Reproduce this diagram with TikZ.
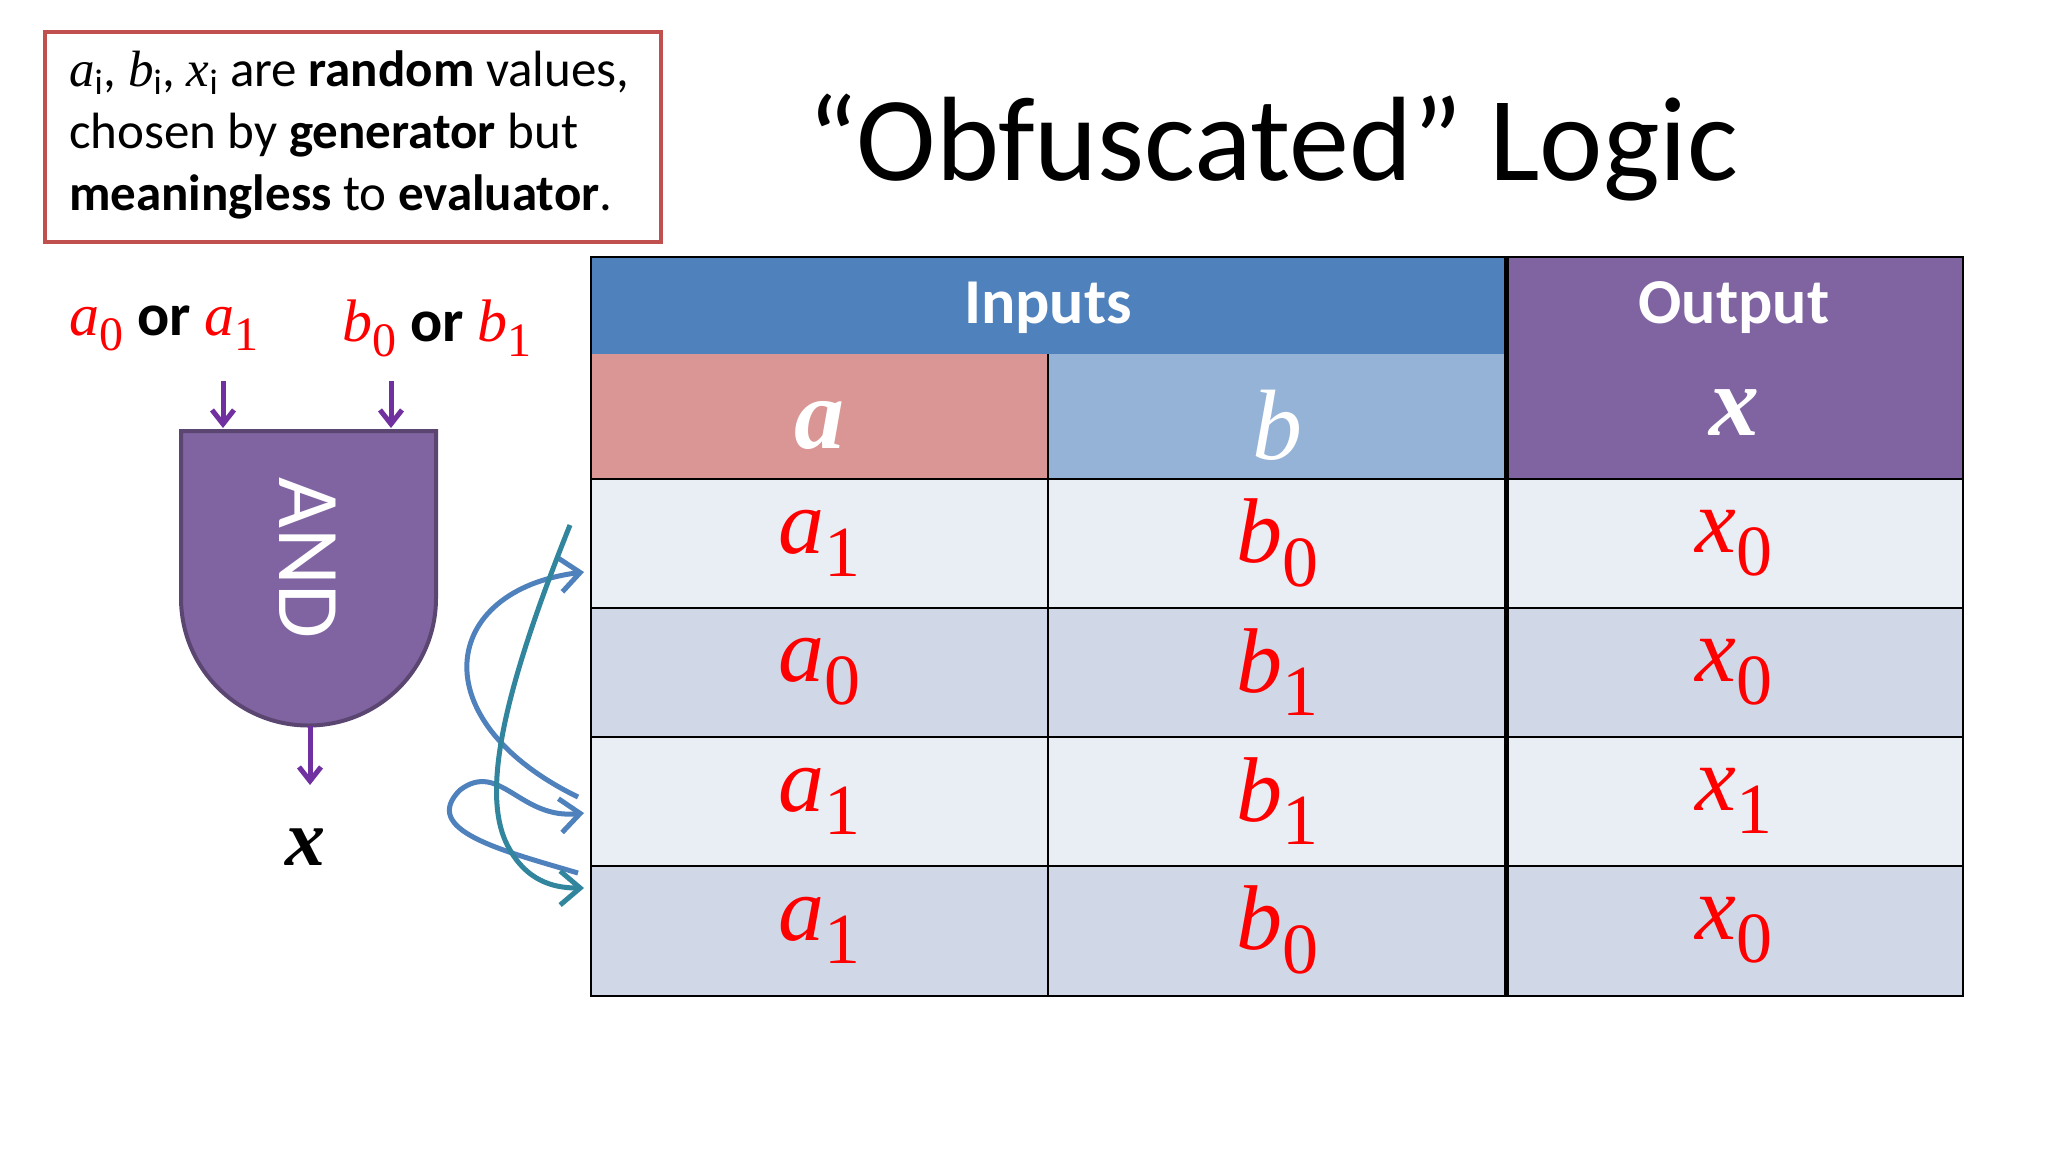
\documentclass[tikz,border=0pt]{standalone}
\usepackage{fontspec}
\setmainfont{Carlito}
\newfontfamily\tms{Liberation Serif}
\usetikzlibrary{arrows.meta}
\definecolor{hblue}{HTML}{4F81BD}
\definecolor{hred}{HTML}{D99694}
\definecolor{hlb}{HTML}{95B3D7}
\definecolor{hpur}{HTML}{8064A2}
\definecolor{rowA}{HTML}{E9EDF4}
\definecolor{rowB}{HTML}{D0D8E8}
\definecolor{boxred}{HTML}{C0504D}
\definecolor{arrpur}{HTML}{7030A0}
\definecolor{teal}{HTML}{31859C}
\newcommand{\sbs}[1]{\raisebox{-0.55ex}{\upshape\fontsize{36}{36}\selectfont #1}}
\newcommand{\lsb}[1]{\raisebox{-0.55ex}{\upshape\fontsize{24}{24}\selectfont #1}}
\tikzset{
 cell/.style={font=\fontsize{46}{50}\selectfont\tms\itshape, text=red},
 hdr/.style={font=\fontsize{32}{36}\selectfont\bfseries, text=white},
 garrow/.style={draw=arrpur, line width=2.5pt, -{Straight Barb[length=7pt,width=11pt]}},
 swap/.style={line width=2.5pt, -{Straight Barb[length=10pt,width=17pt]}},
 lbl/.style={font=\fontsize{30}{34}\selectfont},
}
\begin{document}
\begin{tikzpicture}[x=0.5pt,y=-0.5pt]
\useasboundingbox (0,0) rectangle (2048,1152);
\fill[white] (0,0) rectangle (2048,1152);
% info box
\node[draw=boxred, line width=2pt, minimum width=616*0.5pt, minimum height=210*0.5pt, anchor=north west, inner sep=0pt] (info) at (43,30) {};
\node[anchor=west, align=left, font=\fontsize{25.5}{31}\selectfont] (infot) at (62,135)
 {{\tms\itshape a}$_{\mathrm{i}}$, {\tms\itshape b}$_{\mathrm{i}}$, {\tms\itshape x}$_{\mathrm{i}}$ are \textbf{random} values,\\
 chosen by \textbf{generator} but\\ \textbf{meaningless} to \textbf{evaluator}.};
\node[font=\fontsize{60}{64}\selectfont] (title) at (1273,148) {“Obfuscated” Logic};
% table backgrounds
\fill[hblue] (591,257) rectangle (1506,354);
\fill[hred] (591,354) rectangle (1048,479);
\fill[hlb] (1048,354) rectangle (1506,479);
\fill[hpur] (1506,257) rectangle (1963,479);
\fill[rowA] (591,479) rectangle (1963,608);
\fill[rowB] (591,608) rectangle (1963,737);
\fill[rowA] (591,737) rectangle (1963,866);
\fill[rowB] (591,866) rectangle (1963,996);
\draw[line width=1.2pt] (591,257) rectangle (1963,996);
\draw[line width=1pt] (1048,354) -- (1048,996);
\draw[line width=1pt] (591,479) -- (1963,479) (591,608) -- (1963,608) (591,737) -- (1963,737) (591,866) -- (1963,866);
\draw[line width=2.5pt] (1506,257) -- (1506,996);
\node[hdr] (inp) at (1048,308) {Inputs};
\node[hdr] (outp) at (1734,308) {Output};
\node[hdr, font=\fontsize{50}{54}\selectfont\tms\bfseries\itshape] (ha) at (819,425) {a};
\node[hdr, font=\fontsize{50}{54}\selectfont\tms\itshape] (hb) at (1277,425) {b};
\node[hdr, font=\fontsize{50}{54}\selectfont\tms\bfseries\itshape] (hx) at (1734,413) {x};
\foreach \y/\a/\b/\x [count=\i] in {543/1/0/0, 672/0/1/0, 801/1/1/1, 930/1/0/0}{
 \node[cell] (a\i) at (819,\y) {a\sbs{\a}};
 \node[cell] (b\i) at (1277,\y) {b\sbs{\b}};
 \node[cell] (x\i) at (1734,\y) {x\sbs{\x}};
}
% gate
\draw[fill=hpur, draw=hpur!70!black, line width=2pt] (181,431) -- (436,431) -- (436,598) arc (0:180:127.5) -- cycle;
\node[rotate=-90, text=white, font=\fontsize{44}{48}\selectfont] (and) at (308,558) {AND};
\node[lbl, text=black] (la) at (164,328) {\textcolor{red}{\tms\itshape a\lsb{0}} \textbf{or} \textcolor{red}{\tms\itshape a\lsb{1}}};
\node[lbl, text=black] (lb) at (437,328) {\textcolor{red}{\tms\itshape b\lsb{0}} \textbf{or} \textcolor{red}{\tms\itshape b\lsb{1}}};
\coordinate (ia) at (223,381); \coordinate (iat) at (223,428);
\coordinate (ib) at (391,381); \coordinate (ibt) at (391,428);
\draw[garrow] (ia) -- (iat);
\draw[garrow] (ib) -- (ibt);
\node[font=\fontsize{40}{44}\selectfont\tms\bfseries\itshape] (xo) at (305,847) {x};
\coordinate (go) at (310,726);
\draw[garrow] (go) -- (310,785);
% swap arrows
\coordinate (s1) at (578,797); \coordinate (e1) at (584,572);
\coordinate (s2) at (578,873); \coordinate (e2) at (584,813);
\coordinate (s3) at (570,525); \coordinate (e3) at (584,888);
\draw[swap, hblue] (s1) .. controls (420,720) and (440,590) .. (e1);
\draw[swap, hblue] (s2) .. controls (500,850) and (420,830) .. (460,790) .. controls (500,760) and (520,820) .. (e2);
\draw[swap, teal] (s3) .. controls (500,700) and (480,800) .. (510,850) .. controls (530,885) and (560,888) .. (e3);
\end{tikzpicture}
\end{document}
